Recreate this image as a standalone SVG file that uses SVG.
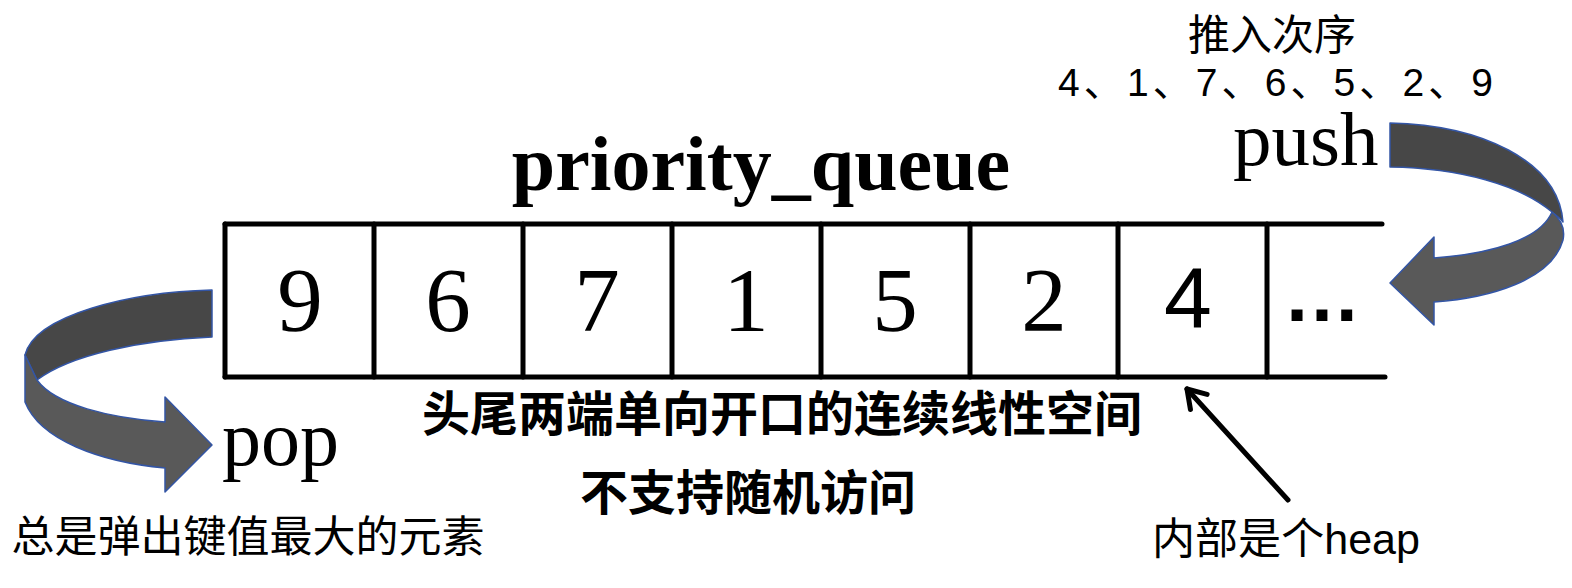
<svg xmlns="http://www.w3.org/2000/svg" width="1572" height="588" viewBox="0 0 1572 588">
<style>
.serif{font-family:"Liberation Serif","Times New Roman",serif;fill:#000}
.sans{font-family:"Liberation Sans",Arial,sans-serif;fill:#000}
.cjk{font-family:"Noto Sans CJK SC","Noto Sans CJK JP",sans-serif;fill:#000}
.cjks{font-family:"Liberation Sans","Noto Sans CJK SC",sans-serif;fill:#000}
.frame{stroke:#000;stroke-width:5;stroke-linecap:round;fill:none}
.back{fill:#474747;stroke:#3355a5;stroke-width:1.5;stroke-linejoin:round}
.front{fill:#595959;stroke:#3355a5;stroke-width:1.5;stroke-linejoin:round}
</style>
<defs>
<marker id="head" viewBox="0 0 12 12" refX="10" refY="6" markerWidth="6" markerHeight="6" orient="auto" markerUnits="strokeWidth">
<path d="M3,1.5 L10,6 L3,10.5" fill="none" stroke="#000" stroke-width="2" stroke-linecap="round" stroke-linejoin="round"/>
</marker>
</defs>

<g id="title"><text class="serif" x="761" y="190" font-size="78" font-weight="bold" text-anchor="middle">priority_queue</text></g>

<g id="queue">
<line class="frame" x1="225" y1="224" x2="1382" y2="224"/>
<line class="frame" x1="225" y1="377" x2="1385" y2="377"/>
<line class="frame" x1="225" y1="224" x2="225" y2="377"/>
<line class="frame" x1="374" y1="224" x2="374" y2="377"/>
<line class="frame" x1="523" y1="224" x2="523" y2="377"/>
<line class="frame" x1="672" y1="224" x2="672" y2="377"/>
<line class="frame" x1="821" y1="224" x2="821" y2="377"/>
<line class="frame" x1="970" y1="224" x2="970" y2="377"/>
<line class="frame" x1="1118" y1="224" x2="1118" y2="377"/>
<line class="frame" x1="1267" y1="224" x2="1267" y2="377"/>
<g font-size="91" text-anchor="middle">
<text class="serif" x="300" y="331">9</text>
<text class="serif" x="448" y="331">6</text>
<text class="serif" x="597" y="331">7</text>
<text class="serif" x="746" y="331">1</text>
<text class="serif" x="895" y="331">5</text>
<text class="serif" x="1044" y="331">2</text>
</g>
<text class="sans" x="1188" y="327" font-size="86" text-anchor="middle">4</text>
<text class="sans" x="1322" y="321" font-size="78" font-weight="bold" text-anchor="middle">…</text>
</g>

<g id="push">
<text class="serif" x="1233" y="165" font-size="77">push</text>
<path class="back" d="M1390,123 C1480,125 1558,160 1563,222 C1560,218 1556,215 1552,212 C1520,185 1460,168 1390,167 Z"/>
<path class="front" d="M1552,212 C1562,220 1565,230 1563,240 C1552,280 1490,298 1434,302 L1434,325 L1390,283 L1434,237 L1434,258 C1490,254 1540,240 1552,212 Z"/>
<text class="cjk" x="1272" y="50" font-size="42" text-anchor="middle">推入次序</text>
<text class="cjks" x="1058" y="96" font-size="39" textLength="435" lengthAdjust="spacing">4、1、7、6、5、2、9</text>
</g>

<g id="pop">
<path class="back" d="M212,290 C130,292 35,315 25,355 L37,380 C70,355 140,340 212,337 Z"/>
<path class="front" d="M25,355 L25,402 C40,440 100,462 165,468 L165,492 L212,445 L165,397 L165,422 C110,418 55,405 37,380 Z"/>
<text class="serif" x="222" y="465" font-size="78">pop</text>
<text class="cjk" x="248" y="552" font-size="43" text-anchor="middle">总是弹出键值最大的元素</text>
</g>

<g id="desc">
<text class="cjk" x="782" y="431" font-size="48" font-weight="bold" text-anchor="middle">头尾两端单向开口的连续线性空间</text>
<text class="cjk" x="748" y="510" font-size="48" font-weight="bold" text-anchor="middle">不支持随机访问</text>
</g>

<g id="heap">
<text class="cjks" x="1152" y="554" font-size="43" textLength="268" lengthAdjust="spacingAndGlyphs">内部是个heap</text>
</g>

<g id="connectors">
<line x1="1288" y1="500" x2="1187" y2="389" stroke="#000" stroke-width="5" stroke-linecap="round" marker-end="url(#head)"/>
</g>
</svg>
